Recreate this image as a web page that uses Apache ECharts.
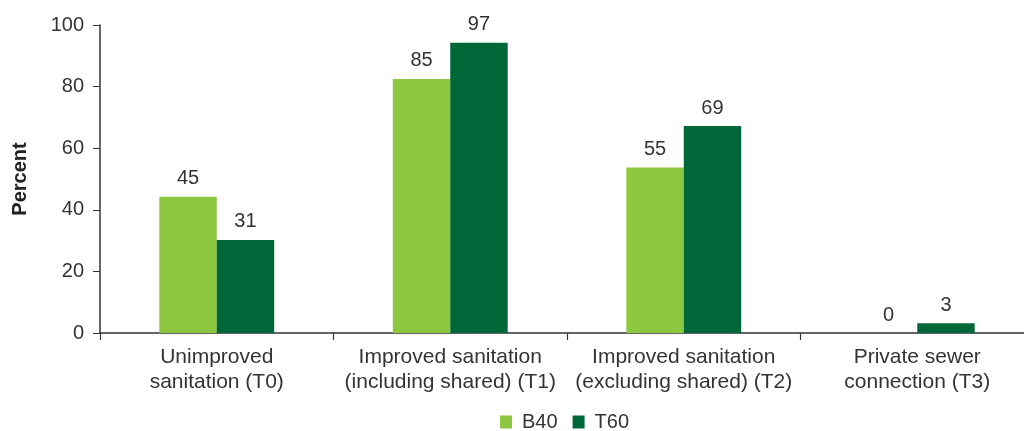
<!DOCTYPE html>
<html>
<head>
<meta charset="utf-8">
<script src="https://cdn.jsdelivr.net/npm/echarts@6/dist/echarts.min.js"></script>
<style>
  html, body { margin: 0; padding: 0; background: #fff; }
  #chart { width: 1024px; height: 431px; }
</style>
</head>
<body>
<div id="chart"></div>
<script>
// categories and series
const categories = [
  'Unimproved\nsanitation (T0)',
  'Improved sanitation\n(including shared) (T1)',
  'Improved sanitation\n(excluding shared) (T2)',
  'Private sewer\nconnection (T3)'
]
// bar heights as drawn
const b40Values = [44.2, 82.5, 53.7, 0]
const t60Values = [30.2, 94.2, 67.2, 3.2]
// printed labels
const b40Labels = ['45', '85', '55', '0']
const t60Labels = ['31', '97', '69', '3']
const yTicks = [0, 20, 40, 60, 80, 100]

const FONT = '"Liberation Sans", Arial, sans-serif'
const TEXT = '#333'

const barLabel = (labels) => ({
  show: true,
  position: 'top',
  distance: 8,
  fontFamily: FONT,
  fontSize: 20,
  color: TEXT,
  formatter: (p) => labels[p.dataIndex]
})

const chart = echarts.init(document.getElementById('chart'))
chart.setOption({
  animation: false,
  color: ['#8dc63f', '#006838'],
  grid: { left: 100, top: 25, height: 308, width: 934, outerBoundsMode: 'none', containLabel: false },
  legend: {
    data: ['B40', 'T60'],
    top: 412,
    left: 500,
    padding: 0,
    itemWidth: 12,
    itemHeight: 13,
    itemGap: 15,
    icon: 'rect',
    textStyle: { fontFamily: FONT, fontSize: 20, color: TEXT, padding: [0, 0, 0, 5] }
  },
  xAxis: {
    type: 'category',
    data: categories,
    axisLine: { lineStyle: { color: '#333', width: 1.5 } },
    axisTick: { show: true, length: 7, interval: 0, lineStyle: { color: '#333', width: 1.2 } },
    axisLabel: {
      interval: 0,
      margin: 12,
      fontFamily: FONT,
      fontSize: 21,
      lineHeight: 25,
      color: TEXT
    }
  },
  yAxis: {
    type: 'value',
    min: yTicks[0],
    max: yTicks[yTicks.length - 1],
    interval: 20,
    name: 'Percent',
    nameLocation: 'middle',
    nameGap: 70,
    nameTextStyle: { fontFamily: FONT, fontSize: 20, fontWeight: 'bold', color: '#222' },
    axisLine: { show: true, lineStyle: { color: '#333', width: 1.5 } },
    axisTick: { show: true, length: 7, lineStyle: { color: '#333' } },
    axisLabel: { margin: 16, fontFamily: FONT, fontSize: 20, color: TEXT },
    splitLine: { show: false }
  },
  series: [
    {
      name: 'B40',
      type: 'bar',
      data: b40Values,
      barWidth: '24.6%',
      barGap: '0%',
      label: barLabel(b40Labels)
    },
    {
      name: 'T60',
      type: 'bar',
      data: t60Values,
      barWidth: '24.6%',
      label: barLabel(t60Labels)
    }
  ]
})
</script>
</body>
</html>
